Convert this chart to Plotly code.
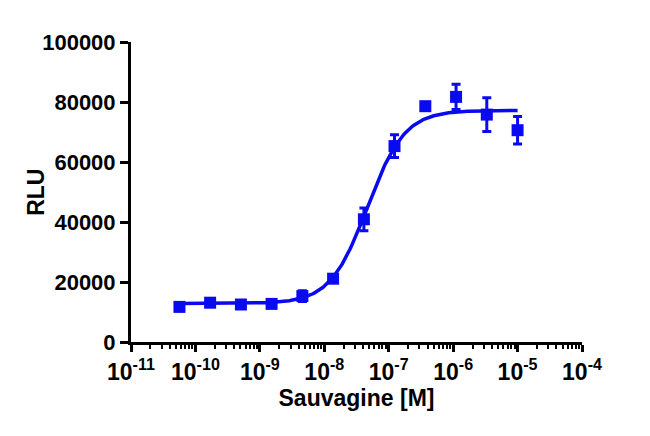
import numpy as np
import plotly.graph_objects as go

# Sauvagine dose-response (3-fold dilutions from 10 uM)
conc = [5.65e-11, 1.69e-10, 5.08e-10, 1.52e-9, 4.57e-9, 1.37e-8,
        4.12e-8, 1.23e-7, 3.70e-7, 1.11e-6, 3.33e-6, 1.00e-5]
rlu_mean = [11700, 13100, 12500, 12700, 15300, 21100,
            40900, 65300, 78600, 81700, 75800, 70600]
rlu_sem = [600, 500, 400, 500, 1800, 800,
           3800, 3800, 500, 4200, 5600, 4600]

# 4PL fit parameters (bottom, top, logEC50, hill slope)
fit_bottom = 12800
fit_top = 77200
fit_log_ec50 = -7.33
fit_hill = 1.5

tick_vals = [1e-11, 1e-10, 1e-9, 1e-8, 1e-7, 1e-6, 1e-5, 1e-4]
tick_text = ["10<sup>-11</sup>", "10<sup>-10</sup>", "10<sup>-9</sup>", "10<sup>-8</sup>",
             "10<sup>-7</sup>", "10<sup>-6</sup>", "10<sup>-5</sup>", "10<sup>-4</sup>"]
y_ticks = [0, 20000, 40000, 60000, 80000, 100000]

blue = "#0A0AF0"

log_x = np.linspace(np.log10(conc[0]), np.log10(conc[-1]), 300)
fit_y = fit_bottom + (fit_top - fit_bottom) / (1 + 10 ** ((fit_log_ec50 - log_x) * fit_hill))

fig = go.Figure()
fig.add_trace(go.Scatter(
    x=10 ** log_x, y=fit_y, mode="lines",
    line=dict(color=blue, width=3.5), hoverinfo="skip", showlegend=False))
fig.add_trace(go.Scatter(
    x=conc, y=rlu_mean, mode="markers",
    marker=dict(symbol="square", size=12, color=blue),
    error_y=dict(type="data", array=rlu_sem, color=blue, thickness=3, width=4.5),
    showlegend=False))

font = dict(family="Liberation Sans, Arial, sans-serif", size=22, color="black", weight="bold")

# page body adds ~8px offset, so margins are trimmed to land the axes where the reference has them
fig.update_layout(
    width=650, height=436,
    margin=dict(l=123, r=76, t=34, b=102),
    paper_bgcolor="white", plot_bgcolor="white",
    font=font,
)
fig.update_xaxes(
    type="log", range=[-11, -4], automargin=False,
    tickvals=tick_vals, ticktext=tick_text,
    showline=True, linewidth=3, linecolor="black",
    ticks="outside", ticklen=7, tickwidth=3, tickcolor="black",
    minor=dict(ticks="outside", ticklen=4, tickwidth=2, tickcolor="black", dtick="D1", showgrid=False),
    showgrid=False, zeroline=False,
    tickfont=dict(font, size=23),
    title=dict(text="Sauvagine [M]", font=dict(font, size=23), standoff=4),
)
fig.update_yaxes(
    range=[0, 100000], tickvals=y_ticks, automargin=False,
    showline=True, linewidth=3, linecolor="black",
    ticks="outside", ticklen=8, tickwidth=3, tickcolor="black",
    showgrid=False, zeroline=False,
    tickfont=dict(font, size=22), tickformat="d",
)
# y title placed by hand, a bit closer to the tick labels than plotly puts it
fig.add_annotation(
    text="RLU", textangle=-90, showarrow=False,
    xref="paper", yref="paper", x=-0.211, y=0.5,
    xanchor="center", yanchor="middle",
    font=dict(font, size=23),
)

fig.write_html("out.html")
